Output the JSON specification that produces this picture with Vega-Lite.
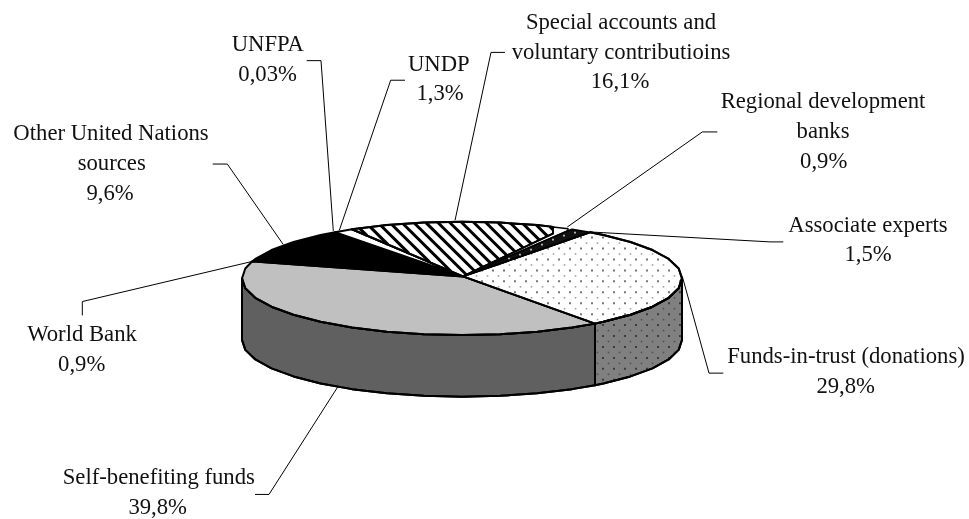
{"$schema":"https://vega.github.io/schema/vega-lite/v6.json","width":969,"height":519,"padding":0,"autosize":{"type":"fit","contains":"padding"},"background":"white","config":{"view":{"stroke":null}},
"datasets":{"shapes":[
{"p":"sideDark","n":1,"x":242,"y":280},{"p":"sideDark","n":2,"x":245.3,"y":289.9},{"p":"sideDark","n":3,"x":255.3,"y":299.5},{"p":"sideDark","n":4,"x":271.5,"y":308.5},{"p":"sideDark","n":5,"x":293.5,"y":316.6},{"p":"sideDark","n":6,"x":320.6,"y":323.7},{"p":"sideDark","n":7,"x":352,"y":329.4},{"p":"sideDark","n":8,"x":386.8,"y":333.6},{"p":"sideDark","n":9,"x":423.8,"y":336.1},{"p":"sideDark","n":10,"x":462,"y":337},{"p":"sideDark","n":11,"x":500.2,"y":336.1},{"p":"sideDark","n":12,"x":537.2,"y":333.6},{"p":"sideDark","n":13,"x":572,"y":329.4},{"p":"sideDark","n":14,"x":595,"y":325.5},{"p":"sideDark","n":15,"x":595,"y":387.5},{"p":"sideDark","n":16,"x":572,"y":391.4},{"p":"sideDark","n":17,"x":537.2,"y":395.6},{"p":"sideDark","n":18,"x":500.2,"y":398.1},{"p":"sideDark","n":19,"x":462,"y":399},{"p":"sideDark","n":20,"x":423.8,"y":398.1},{"p":"sideDark","n":21,"x":386.8,"y":395.6},{"p":"sideDark","n":22,"x":352,"y":391.4},{"p":"sideDark","n":23,"x":320.6,"y":385.7},{"p":"sideDark","n":24,"x":293.5,"y":378.6},{"p":"sideDark","n":25,"x":271.5,"y":370.5},{"p":"sideDark","n":26,"x":255.3,"y":361.5},{"p":"sideDark","n":27,"x":245.3,"y":351.9},{"p":"sideDark","n":28,"x":242,"y":342},{"p":"sideDark","n":29,"x":242,"y":280},
{"p":"sideGrey","n":1,"x":595,"y":325.5},{"p":"sideGrey","n":2,"x":603.4,"y":323.7},{"p":"sideGrey","n":3,"x":630.5,"y":316.6},{"p":"sideGrey","n":4,"x":652.5,"y":308.5},{"p":"sideGrey","n":5,"x":668.7,"y":299.5},{"p":"sideGrey","n":6,"x":678.7,"y":289.9},{"p":"sideGrey","n":7,"x":682,"y":280},{"p":"sideGrey","n":8,"x":682,"y":342},{"p":"sideGrey","n":9,"x":678.7,"y":351.9},{"p":"sideGrey","n":10,"x":668.7,"y":361.5},{"p":"sideGrey","n":11,"x":652.5,"y":370.5},{"p":"sideGrey","n":12,"x":630.5,"y":378.6},{"p":"sideGrey","n":13,"x":603.4,"y":385.7},{"p":"sideGrey","n":14,"x":595,"y":387.5},{"p":"sideGrey","n":15,"x":595,"y":325.5},
{"p":"silver","n":1,"x":463,"y":278},{"p":"silver","n":2,"x":252,"y":263},{"p":"silver","n":3,"x":245.3,"y":270.1},{"p":"silver","n":4,"x":242,"y":280},{"p":"silver","n":5,"x":245.3,"y":289.9},{"p":"silver","n":6,"x":255.3,"y":299.5},{"p":"silver","n":7,"x":271.5,"y":308.5},{"p":"silver","n":8,"x":293.5,"y":316.6},{"p":"silver","n":9,"x":320.6,"y":323.7},{"p":"silver","n":10,"x":352,"y":329.4},{"p":"silver","n":11,"x":386.8,"y":333.6},{"p":"silver","n":12,"x":423.8,"y":336.1},{"p":"silver","n":13,"x":462,"y":337},{"p":"silver","n":14,"x":500.2,"y":336.1},{"p":"silver","n":15,"x":537.2,"y":333.6},{"p":"silver","n":16,"x":572,"y":329.4},{"p":"silver","n":17,"x":595,"y":325.5},{"p":"silver","n":18,"x":463,"y":278},
{"p":"black","n":1,"x":463,"y":278},{"p":"black","n":2,"x":252,"y":263},{"p":"black","n":3,"x":255.3,"y":260.5},{"p":"black","n":4,"x":271.5,"y":251.5},{"p":"black","n":5,"x":293.5,"y":243.4},{"p":"black","n":6,"x":320.6,"y":236.3},{"p":"black","n":7,"x":335,"y":233.5},{"p":"black","n":8,"x":463,"y":278},
{"p":"undp","n":1,"x":463,"y":278},{"p":"undp","n":2,"x":335,"y":233.5},{"p":"undp","n":3,"x":352,"y":230.6},{"p":"undp","n":4,"x":463,"y":278},
{"p":"dotted","n":1,"x":463,"y":278},{"p":"dotted","n":2,"x":590,"y":233.7},{"p":"dotted","n":3,"x":603.4,"y":236.3},{"p":"dotted","n":4,"x":630.5,"y":243.4},{"p":"dotted","n":5,"x":652.5,"y":251.5},{"p":"dotted","n":6,"x":668.7,"y":260.5},{"p":"dotted","n":7,"x":678.7,"y":270.1},{"p":"dotted","n":8,"x":682,"y":280},{"p":"dotted","n":9,"x":678.7,"y":289.9},{"p":"dotted","n":10,"x":668.7,"y":299.5},{"p":"dotted","n":11,"x":652.5,"y":308.5},{"p":"dotted","n":12,"x":630.5,"y":316.6},{"p":"dotted","n":13,"x":603.4,"y":323.7},{"p":"dotted","n":14,"x":595,"y":325.5},{"p":"dotted","n":15,"x":463,"y":278},
{"p":"wedge","n":1,"x":463,"y":278},{"p":"wedge","n":2,"x":352,"y":230.6},{"p":"wedge","n":3,"x":386.8,"y":226.4},{"p":"wedge","n":4,"x":423.8,"y":223.9},{"p":"wedge","n":5,"x":462,"y":223},{"p":"wedge","n":6,"x":500.2,"y":223.9},{"p":"wedge","n":7,"x":537.2,"y":226.4},{"p":"wedge","n":8,"x":553,"y":228.2},{"p":"wedge","n":9,"x":553,"y":235},{"p":"wedge","n":10,"x":463,"y":278},
{"p":"sliver","n":1,"x":463,"y":278},{"p":"sliver","n":2,"x":553,"y":235},{"p":"sliver","n":3,"x":553,"y":228.2},{"p":"sliver","n":4,"x":568,"y":230},{"p":"sliver","n":5,"x":568,"y":232},{"p":"sliver","n":6,"x":463,"y":278},
{"p":"band","n":1,"x":463,"y":278},{"p":"band","n":2,"x":568,"y":232},{"p":"band","n":3,"x":572,"y":230.6},{"p":"band","n":4,"x":590,"y":233.7},{"p":"band","n":5,"x":463,"y":278}
]},
"layer":[
{"data":{"name":"shapes"},"transform":[{"filter":{"field":"p","oneOf":["sideDark","sideGrey","silver","black","undp","dotted","wedge"]}}],"mark":{"type":"line","stroke":"black","strokeWidth":2,"strokeJoin":"round"},"encoding":{"order":{"field":"n","type":"quantitative"},"fill":{"field":"p","type":"nominal","legend":null,"scale":{"domain":["sideDark","sideGrey","silver","black","undp","dotted","wedge","sliver","band"],"range":["#606060","#808080","#c0c0c0","#000000","#ffffff","#ffffff","#ffffff","#ffffff","#111111"]}}}},
{"data":{"values":[
{"x":359.7,"y":229.7,"x2":367,"y2":237},{"x":370.4,"y":228.4,"x2":388,"y2":246},{"x":381.1,"y":227.1,"x2":408.9,"y2":254.9},{"x":392,"y":226,"x2":429.8,"y2":263.8},{"x":403.3,"y":225.3,"x2":450.8,"y2":272.8},{"x":414.5,"y":224.5,"x2":466.4,"y2":276.4},{"x":425.9,"y":223.9,"x2":474.6,"y2":272.6},{"x":437.6,"y":223.6,"x2":482.9,"y2":268.9},{"x":449.3,"y":223.3,"x2":491.1,"y2":265.1},{"x":461,"y":223,"x2":499.3,"y2":261.3},{"x":473.3,"y":223.3,"x2":507.5,"y2":257.5},{"x":485.6,"y":223.6,"x2":515.7,"y2":253.7},{"x":497.8,"y":223.8,"x2":523.9,"y2":249.9},{"x":510.6,"y":224.6,"x2":532.1,"y2":246.1},{"x":523.5,"y":225.5,"x2":540.3,"y2":242.3},{"x":536.3,"y":226.3,"x2":548.5,"y2":238.5},{"x":549.9,"y":227.9,"x2":556.8,"y2":234.8}
]},"mark":{"type":"rule","stroke":"black","strokeWidth":3},"encoding":{"x2":{"field":"x2"},"y2":{"field":"y2"}}},
{"data":{"name":"shapes"},"transform":[{"filter":{"field":"p","oneOf":["sliver","band"]}}],"mark":{"type":"line","stroke":"black","strokeWidth":1.5,"strokeJoin":"round"},"encoding":{"order":{"field":"n","type":"quantitative"},"fill":{"field":"p","type":"nominal","legend":null,"scale":{"domain":["sideDark","sideGrey","silver","black","undp","dotted","wedge","sliver","band"],"range":["#606060","#808080","#c0c0c0","#000000","#ffffff","#ffffff","#ffffff","#ffffff","#111111"]}}}},
{"data":{"name":"shapes"},"transform":[{"filter":{"field":"p","oneOf":["wedge","dotted","sideDark","sideGrey"]}}],"mark":{"type":"line","stroke":"black","strokeWidth":2,"strokeJoin":"round"},"encoding":{"order":{"field":"n","type":"quantitative"},"detail":{"field":"p"}}},
{"data":{"values":[
{"k":"w","x":520,"y":256},{"k":"w","x":531,"y":251},{"k":"w","x":542,"y":246},{"k":"w","x":553,"y":241},{"k":"w","x":564,"y":237},{"k":"w","x":575,"y":234},{"k":"w","x":509,"y":260}
]},"mark":{"type":"point","shape":"square","filled":true,"opacity":1,"strokeWidth":0,"size":3,"color":"#cccccc"}},
{"data":{"values":[
{"k":"b","x":482,"y":272},{"k":"b","x":482,"y":283},{"k":"b","x":493,"y":272},{"k":"b","x":493,"y":283},{"k":"b","x":504,"y":272},{"k":"b","x":504,"y":283},
{"k":"b","x":515,"y":261},{"k":"b","x":515,"y":272},{"k":"b","x":515,"y":283},{"k":"b","x":515,"y":294},{"k":"b","x":526,"y":261},{"k":"b","x":526,"y":272},{"k":"b","x":526,"y":283},{"k":"b","x":526,"y":294},{"k":"b","x":537,"y":261},{"k":"b","x":537,"y":272},{"k":"b","x":537,"y":283},{"k":"b","x":537,"y":294},
{"k":"b","x":548,"y":250},{"k":"b","x":548,"y":261},{"k":"b","x":548,"y":272},{"k":"b","x":548,"y":283},{"k":"b","x":548,"y":294},{"k":"b","x":548,"y":305},{"k":"b","x":559,"y":250},{"k":"b","x":559,"y":261},{"k":"b","x":559,"y":272},{"k":"b","x":559,"y":283},{"k":"b","x":559,"y":294},{"k":"b","x":559,"y":305},{"k":"b","x":570,"y":250},{"k":"b","x":570,"y":261},{"k":"b","x":570,"y":272},{"k":"b","x":570,"y":283},{"k":"b","x":570,"y":294},{"k":"b","x":570,"y":305},
{"k":"b","x":581,"y":239},{"k":"b","x":581,"y":250},{"k":"b","x":581,"y":261},{"k":"b","x":581,"y":272},{"k":"b","x":581,"y":283},{"k":"b","x":581,"y":294},{"k":"b","x":581,"y":305},{"k":"b","x":581,"y":316},
{"k":"b","x":592,"y":239},{"k":"b","x":592,"y":250},{"k":"b","x":592,"y":261},{"k":"b","x":592,"y":272},{"k":"b","x":592,"y":283},{"k":"b","x":592,"y":294},{"k":"b","x":592,"y":305},{"k":"b","x":592,"y":316},
{"k":"b","x":603,"y":239},{"k":"b","x":603,"y":250},{"k":"b","x":603,"y":261},{"k":"b","x":603,"y":272},{"k":"b","x":603,"y":283},{"k":"b","x":603,"y":294},{"k":"b","x":603,"y":305},{"k":"b","x":603,"y":316},{"k":"b","x":603,"y":327},{"k":"b","x":603,"y":338},{"k":"b","x":603,"y":349},{"k":"b","x":603,"y":360},{"k":"b","x":603,"y":371},{"k":"b","x":603,"y":382},
{"k":"b","x":614,"y":250},{"k":"b","x":614,"y":261},{"k":"b","x":614,"y":272},{"k":"b","x":614,"y":283},{"k":"b","x":614,"y":294},{"k":"b","x":614,"y":305},{"k":"b","x":614,"y":316},{"k":"b","x":614,"y":327},{"k":"b","x":614,"y":338},{"k":"b","x":614,"y":349},{"k":"b","x":614,"y":360},{"k":"b","x":614,"y":371},{"k":"b","x":614,"y":382},
{"k":"b","x":625,"y":250},{"k":"b","x":625,"y":261},{"k":"b","x":625,"y":272},{"k":"b","x":625,"y":283},{"k":"b","x":625,"y":294},{"k":"b","x":625,"y":305},{"k":"b","x":625,"y":316},{"k":"b","x":625,"y":327},{"k":"b","x":625,"y":338},{"k":"b","x":625,"y":349},{"k":"b","x":625,"y":360},{"k":"b","x":625,"y":371},
{"k":"b","x":636,"y":250},{"k":"b","x":636,"y":261},{"k":"b","x":636,"y":272},{"k":"b","x":636,"y":283},{"k":"b","x":636,"y":294},{"k":"b","x":636,"y":305},{"k":"b","x":636,"y":327},{"k":"b","x":636,"y":338},{"k":"b","x":636,"y":349},{"k":"b","x":636,"y":360},{"k":"b","x":636,"y":371},
{"k":"b","x":647,"y":250},{"k":"b","x":647,"y":261},{"k":"b","x":647,"y":272},{"k":"b","x":647,"y":283},{"k":"b","x":647,"y":294},{"k":"b","x":647,"y":305},{"k":"b","x":647,"y":316},{"k":"b","x":647,"y":327},{"k":"b","x":647,"y":338},{"k":"b","x":647,"y":349},{"k":"b","x":647,"y":360},{"k":"b","x":647,"y":371},
{"k":"b","x":658,"y":261},{"k":"b","x":658,"y":272},{"k":"b","x":658,"y":283},{"k":"b","x":658,"y":294},{"k":"b","x":658,"y":305},{"k":"b","x":658,"y":316},{"k":"b","x":658,"y":327},{"k":"b","x":658,"y":338},{"k":"b","x":658,"y":349},{"k":"b","x":658,"y":360},
{"k":"b","x":669,"y":261},{"k":"b","x":669,"y":272},{"k":"b","x":669,"y":283},{"k":"b","x":669,"y":294},{"k":"b","x":669,"y":305},{"k":"b","x":669,"y":316},{"k":"b","x":669,"y":327},{"k":"b","x":669,"y":338},{"k":"b","x":669,"y":349},{"k":"b","x":669,"y":360},
{"k":"b","x":680,"y":283},{"k":"b","x":680,"y":294},{"k":"b","x":680,"y":305},{"k":"b","x":680,"y":316},{"k":"b","x":680,"y":327},{"k":"b","x":680,"y":338},{"k":"b","x":680,"y":349},
{"k":"s","x":476.5,"y":277.5},{"k":"s","x":487.5,"y":277.5},{"k":"s","x":498.5,"y":266.5},{"k":"s","x":498.5,"y":277.5},{"k":"s","x":498.5,"y":288.5},{"k":"s","x":509.5,"y":266.5},{"k":"s","x":509.5,"y":277.5},{"k":"s","x":509.5,"y":288.5},{"k":"s","x":520.5,"y":266.5},{"k":"s","x":520.5,"y":277.5},{"k":"s","x":520.5,"y":288.5},
{"k":"s","x":531.5,"y":255.5},{"k":"s","x":531.5,"y":266.5},{"k":"s","x":531.5,"y":277.5},{"k":"s","x":531.5,"y":288.5},{"k":"s","x":531.5,"y":299.5},{"k":"s","x":542.5,"y":255.5},{"k":"s","x":542.5,"y":266.5},{"k":"s","x":542.5,"y":277.5},{"k":"s","x":542.5,"y":288.5},{"k":"s","x":542.5,"y":299.5},{"k":"s","x":553.5,"y":255.5},{"k":"s","x":553.5,"y":266.5},{"k":"s","x":553.5,"y":277.5},{"k":"s","x":553.5,"y":288.5},{"k":"s","x":553.5,"y":299.5},
{"k":"s","x":564.5,"y":244.5},{"k":"s","x":564.5,"y":255.5},{"k":"s","x":564.5,"y":266.5},{"k":"s","x":564.5,"y":277.5},{"k":"s","x":564.5,"y":288.5},{"k":"s","x":564.5,"y":299.5},{"k":"s","x":564.5,"y":310.5},{"k":"s","x":575.5,"y":244.5},{"k":"s","x":575.5,"y":255.5},{"k":"s","x":575.5,"y":266.5},{"k":"s","x":575.5,"y":277.5},{"k":"s","x":575.5,"y":288.5},{"k":"s","x":575.5,"y":299.5},{"k":"s","x":575.5,"y":310.5},
{"k":"s","x":586.5,"y":244.5},{"k":"s","x":586.5,"y":255.5},{"k":"s","x":586.5,"y":266.5},{"k":"s","x":586.5,"y":277.5},{"k":"s","x":586.5,"y":288.5},{"k":"s","x":586.5,"y":299.5},{"k":"s","x":586.5,"y":310.5},{"k":"s","x":586.5,"y":321.5},
{"k":"s","x":597.5,"y":244.5},{"k":"s","x":597.5,"y":255.5},{"k":"s","x":597.5,"y":266.5},{"k":"s","x":597.5,"y":277.5},{"k":"s","x":597.5,"y":288.5},{"k":"s","x":597.5,"y":299.5},{"k":"s","x":597.5,"y":310.5},{"k":"s","x":597.5,"y":321.5},{"k":"s","x":597.5,"y":332.5},{"k":"s","x":597.5,"y":343.5},{"k":"s","x":597.5,"y":354.5},{"k":"s","x":597.5,"y":365.5},{"k":"s","x":597.5,"y":376.5},
{"k":"s","x":608.5,"y":244.5},{"k":"s","x":608.5,"y":255.5},{"k":"s","x":608.5,"y":266.5},{"k":"s","x":608.5,"y":277.5},{"k":"s","x":608.5,"y":288.5},{"k":"s","x":608.5,"y":299.5},{"k":"s","x":608.5,"y":310.5},{"k":"s","x":608.5,"y":321.5},{"k":"s","x":608.5,"y":332.5},{"k":"s","x":608.5,"y":343.5},{"k":"s","x":608.5,"y":354.5},{"k":"s","x":608.5,"y":365.5},{"k":"s","x":608.5,"y":376.5},
{"k":"s","x":619.5,"y":244.5},{"k":"s","x":619.5,"y":255.5},{"k":"s","x":619.5,"y":266.5},{"k":"s","x":619.5,"y":277.5},{"k":"s","x":619.5,"y":288.5},{"k":"s","x":619.5,"y":299.5},{"k":"s","x":619.5,"y":310.5},{"k":"s","x":619.5,"y":332.5},{"k":"s","x":619.5,"y":343.5},{"k":"s","x":619.5,"y":354.5},{"k":"s","x":619.5,"y":365.5},{"k":"s","x":619.5,"y":376.5},
{"k":"s","x":630.5,"y":255.5},{"k":"s","x":630.5,"y":266.5},{"k":"s","x":630.5,"y":277.5},{"k":"s","x":630.5,"y":288.5},{"k":"s","x":630.5,"y":299.5},{"k":"s","x":630.5,"y":310.5},{"k":"s","x":630.5,"y":321.5},{"k":"s","x":630.5,"y":332.5},{"k":"s","x":630.5,"y":343.5},{"k":"s","x":630.5,"y":354.5},{"k":"s","x":630.5,"y":365.5},{"k":"s","x":630.5,"y":376.5},
{"k":"s","x":641.5,"y":255.5},{"k":"s","x":641.5,"y":266.5},{"k":"s","x":641.5,"y":277.5},{"k":"s","x":641.5,"y":288.5},{"k":"s","x":641.5,"y":299.5},{"k":"s","x":641.5,"y":310.5},{"k":"s","x":641.5,"y":321.5},{"k":"s","x":641.5,"y":332.5},{"k":"s","x":641.5,"y":343.5},{"k":"s","x":641.5,"y":354.5},{"k":"s","x":641.5,"y":365.5},
{"k":"s","x":652.5,"y":255.5},{"k":"s","x":652.5,"y":266.5},{"k":"s","x":652.5,"y":277.5},{"k":"s","x":652.5,"y":288.5},{"k":"s","x":652.5,"y":299.5},{"k":"s","x":652.5,"y":321.5},{"k":"s","x":652.5,"y":332.5},{"k":"s","x":652.5,"y":343.5},{"k":"s","x":652.5,"y":354.5},{"k":"s","x":652.5,"y":365.5},
{"k":"s","x":663.5,"y":266.5},{"k":"s","x":663.5,"y":277.5},{"k":"s","x":663.5,"y":288.5},{"k":"s","x":663.5,"y":299.5},{"k":"s","x":663.5,"y":310.5},{"k":"s","x":663.5,"y":321.5},{"k":"s","x":663.5,"y":332.5},{"k":"s","x":663.5,"y":343.5},{"k":"s","x":663.5,"y":354.5},
{"k":"s","x":674.5,"y":266.5},{"k":"s","x":674.5,"y":277.5},{"k":"s","x":674.5,"y":288.5},{"k":"s","x":674.5,"y":299.5},{"k":"s","x":674.5,"y":310.5},{"k":"s","x":674.5,"y":321.5},{"k":"s","x":674.5,"y":332.5},{"k":"s","x":674.5,"y":343.5},{"k":"s","x":674.5,"y":354.5}
]},"mark":{"type":"point","shape":"square","filled":true,"opacity":1,"strokeWidth":0,"blend":"multiply"},"encoding":{"color":{"field":"k","type":"nominal","legend":null,"scale":{"domain":["b","s"],"range":["#777777","#a0a0a0"]}},"size":{"field":"k","type":"nominal","legend":null,"scale":{"domain":["b","s"],"range":[4,2.5]}}}},
{"data":{"values":[
{"l":"UNFPA","n":1,"x":306.7,"y":61},{"l":"UNFPA","n":2,"x":321,"y":61},{"l":"UNFPA","n":3,"x":333.3,"y":232.3},
{"l":"UNDP","n":1,"x":405,"y":80.7},{"l":"UNDP","n":2,"x":390.7,"y":80.7},{"l":"UNDP","n":3,"x":339.3,"y":231.7},
{"l":"Special","n":1,"x":505,"y":52.7},{"l":"Special","n":2,"x":491,"y":52.7},{"l":"Special","n":3,"x":455,"y":221.7},
{"l":"Other","n":1,"x":212.7,"y":165},{"l":"Other","n":2,"x":227.3,"y":165},{"l":"Other","n":3,"x":283.3,"y":246},
{"l":"Regional","n":1,"x":717.3,"y":132.7},{"l":"Regional","n":2,"x":702.3,"y":132.7},{"l":"Regional","n":3,"x":567.3,"y":228.3},
{"l":"Associate","n":1,"x":783.3,"y":243.3},{"l":"Associate","n":2,"x":770,"y":243.3},{"l":"Associate","n":3,"x":590,"y":233.3},
{"l":"Funds","n":1,"x":723.3,"y":375.3},{"l":"Funds","n":2,"x":709,"y":375.3},{"l":"Funds","n":3,"x":682.3,"y":278},
{"l":"World","n":1,"x":82.3,"y":317.3},{"l":"World","n":2,"x":82.3,"y":303.3},{"l":"World","n":3,"x":252,"y":263},
{"l":"Self","n":1,"x":255,"y":497.3},{"l":"Self","n":2,"x":269,"y":497.3},{"l":"Self","n":3,"x":338.3,"y":388.3}
]},"mark":{"type":"line","stroke":"black","strokeWidth":1},"encoding":{"order":{"field":"n","type":"quantitative"},"detail":{"field":"l"}}},
{"data":{"values":[
{"t":"Special accounts and","x":621,"y":29.3},{"t":"voluntary contributioins","x":621,"y":59.3},{"t":"16,1%","x":620,"y":89},
{"t":"Regional development","x":823,"y":109},{"t":"banks","x":823,"y":139},{"t":"0,9%","x":823.7,"y":169},
{"t":"Associate experts","x":868,"y":233},{"t":"1,5%","x":868,"y":263},
{"t":"UNFPA","x":267.8,"y":51},{"t":"0,03%","x":267.6,"y":81},
{"t":"UNDP","x":438.8,"y":71},{"t":"1,3%","x":440,"y":101},
{"t":"Other United Nations","x":111,"y":141},{"t":"sources","x":111.7,"y":170.7},{"t":"9,6%","x":110,"y":201},
{"t":"World Bank","x":82,"y":342.7},{"t":"0,9%","x":81.7,"y":372.7},
{"t":"Self-benefiting funds","x":158.8,"y":487},{"t":"39,8%","x":157.7,"y":516.7},
{"t":"Funds-in-trust (donations)","x":846,"y":365},{"t":"29,8%","x":845.7,"y":395}
]},"mark":{"type":"text","font":"Liberation Serif","fontSize":22.7,"align":"center","baseline":"alphabetic","color":"#111111"},"encoding":{"text":{"field":"t"}}}
],
"encoding":{"x":{"field":"x","type":"quantitative","axis":null,"scale":{"domain":[0,969],"nice":false,"zero":false}},"y":{"field":"y","type":"quantitative","axis":null,"scale":{"domain":[519,0],"nice":false,"zero":false}}}
}
